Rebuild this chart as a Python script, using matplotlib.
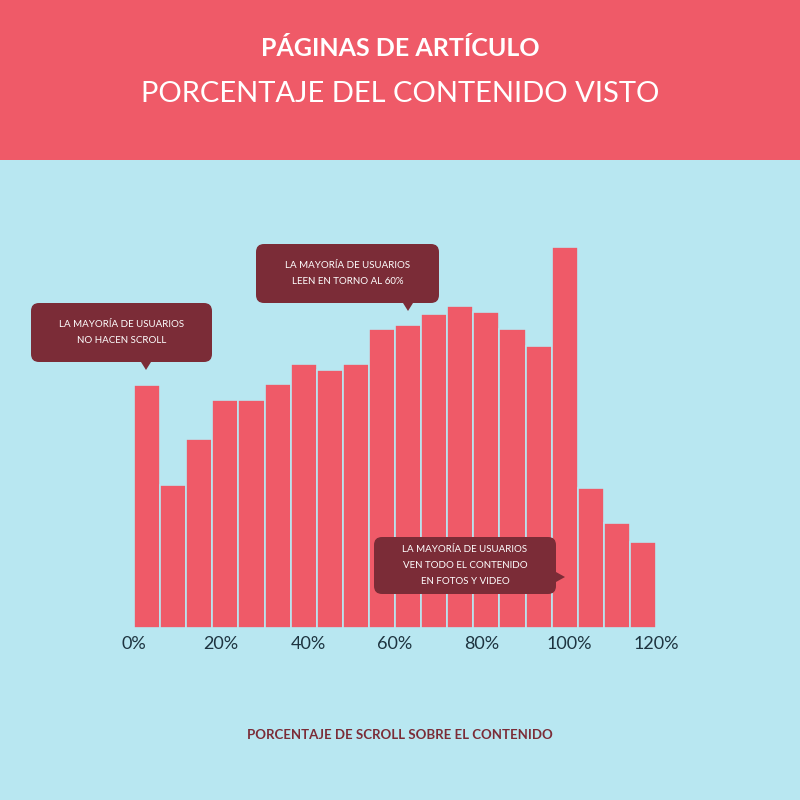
"""Histograma de porcentaje de scroll en páginas de artículo."""
import matplotlib

matplotlib.use("Agg")
import matplotlib.pyplot as plt
from matplotlib.patches import FancyBboxPatch, Polygon, Rectangle

# datos
bin_edges = [i * 6 for i in range(21)]
counts = [243, 143, 189, 228, 228, 244, 264, 258, 264, 299,
          303, 314, 322, 316, 299, 282, 381, 140, 105, 86]
tick_values = [0, 20, 40, 60, 80, 100, 120]
tick_labels = ["0%", "20%", "40%", "60%", "80%", "100%", "120%"]

PINK = "#EF5A68"
BLUE = "#B8E7F1"
MAROON = "#7B2C37"
NAVY = "#1E3440"
plt.rcParams["font.family"] = "Lato"

fig = plt.figure(figsize=(8, 8), dpi=100)
fig.patch.set_facecolor(BLUE)
fig.patches.append(Rectangle((0, 0.8), 1, 0.2, transform=fig.transFigure,
                             facecolor=PINK, edgecolor="none", zorder=0))
fig.text(0.5, 0.94, "PÁGINAS DE ARTÍCULO", color="white", fontsize=18,
         fontweight="bold", ha="center", va="center")
fig.text(0.5, 0.882, "PORCENTAJE DEL CONTENIDO VISTO", color="white", fontsize=21,
         ha="center", va="center")

ax = fig.add_axes([0.1675, 0.215, 0.6525, 0.5])
ax.set_facecolor(BLUE)
widths = [bin_edges[i + 1] - bin_edges[i] for i in range(len(counts))]
ax.bar(bin_edges[:-1], counts, width=widths, align="edge", color=PINK,
       edgecolor=BLUE, linewidth=1.2)
ax.set_xlim(0, 120)
ax.set_ylim(0, 400)
ax.set_xticks(tick_values)
ax.set_xticklabels(tick_labels, fontsize=13, color=NAVY)
ax.tick_params(length=0, pad=6)
ax.set_yticks([])
for s in ax.spines.values():
    s.set_visible(False)

fig.text(0.5, 0.081, "PORCENTAJE DE SCROLL SOBRE EL CONTENIDO", color=MAROON,
         fontsize=9.5, fontweight="bold", ha="center", va="center")


def callout(x0, y0, x1, y1, lines, tip):
    # caja con piquito, coordenadas en píxeles desde arriba
    W, H = 800, 800
    box = FancyBboxPatch((x0 / W, 1 - y1 / H), (x1 - x0) / W, (y1 - y0) / H,
                         boxstyle="round,pad=0,rounding_size=0.01",
                         transform=fig.transFigure, facecolor=MAROON,
                         edgecolor="none", zorder=5)
    fig.patches.append(box)
    fig.patches.append(Polygon([(x / W, 1 - y / H) for x, y in tip], closed=True,
                               transform=fig.transFigure, facecolor=MAROON,
                               edgecolor="none", zorder=5))
    fig.text((x0 + x1) / 2 / W, 1 - (y0 + y1) / 2 / H, "\n".join(lines),
             color="white", fontsize=7, ha="center", va="center",
             linespacing=2.0, zorder=6)


callout(31, 303, 212, 362, ["LA MAYORÍA DE USUARIOS", "NO HACEN SCROLL"],
        [(141, 362), (151, 362), (146, 370)])
callout(256, 244, 439, 303, ["LA MAYORÍA DE USUARIOS", "LEEN EN TORNO AL 60%"],
        [(403, 303), (413, 303), (408, 311)])
callout(374, 537, 556, 594, ["LA MAYORÍA DE USUARIOS", "VEN TODO EL CONTENIDO",
                             "EN FOTOS Y VIDEO"],
        [(556, 572), (556, 582), (565, 577)])

fig.savefig("out.png", dpi=100, facecolor=BLUE)
plt.close(fig)
